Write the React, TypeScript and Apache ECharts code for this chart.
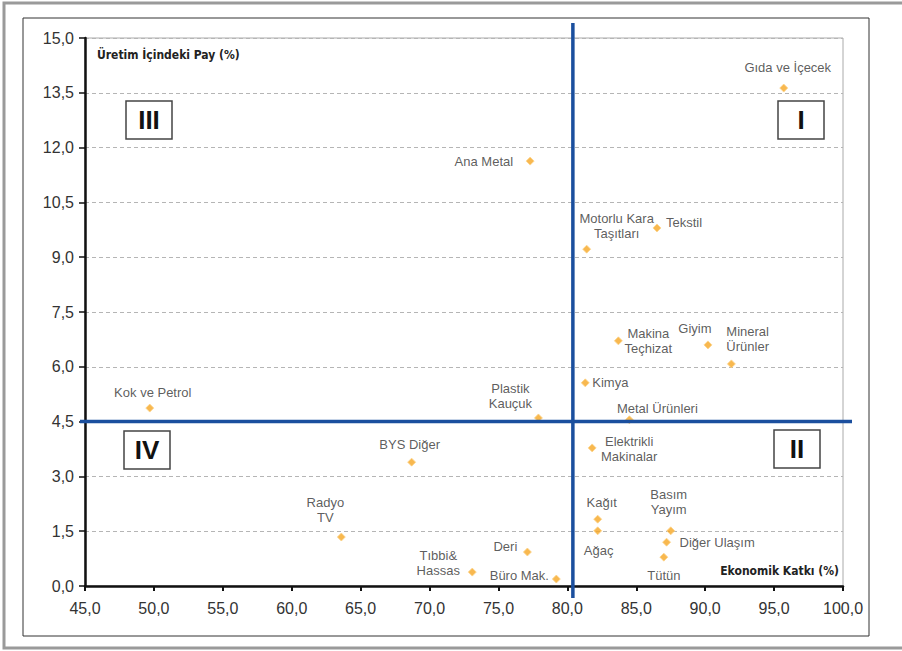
import React, { useEffect, useRef } from "react";
import * as echarts from "echarts";

const sectors: string[] = [
  "Gıda ve İçecek", "Ana Metal", "Tekstil", "Motorlu Kara\nTaşıtları", "Makina\nTeçhizat",
  "Giyim", "Mineral\nÜrünler", "Kimya", "Metal Ürünleri", "Plastik\nKauçuk",
  "Kok ve Petrol", "Elektrikli\nMakinalar", "BYS Diğer", "Radyo\nTV", "Tıbbi&\nHassas",
  "Deri", "Büro Mak.", "Kağıt", "Ağaç", "Basım\nYayım", "Diğer Ulaşım", "Tütün",
];
const economicContribution: number[] = [
  95.7, 77.3, 86.5, 81.4, 83.7, 90.2, 91.9, 81.3, 84.5, 77.9,
  49.7, 81.8, 68.7, 63.6, 73.1, 77.1, 79.2, 82.2, 82.2, 87.5, 87.2, 87.0,
];
const productionShare: number[] = [
  13.63, 11.63, 9.8, 9.22, 6.71, 6.6, 6.08, 5.56, 4.55, 4.6,
  4.87, 3.78, 3.39, 1.34, 0.38, 0.93, 0.19, 1.83, 1.51, 1.51, 1.2, 0.79,
];
const quadrantX = 80.4;
const quadrantY = 4.5;
const quadrantNames: string[] = ["I", "II", "III", "IV"];

// label placement (styling only): [dx, dy, align]
const labelPlacement: Record<string, [number, number, string]> = {
  "Gıda ve İçecek": [4, -21, "center"],
  "Ana Metal": [-17, 0, "right"],
  "Tekstil": [9, -5, "left"],
  "Motorlu Kara\nTaşıtları": [30, -23, "center"],
  "Makina\nTeçhizat": [30, 0, "center"],
  "Giyim": [-13, -16, "center"],
  "Mineral\nÜrünler": [-5, -25, "left"],
  "Kimya": [7, 0, "left"],
  "Metal Ürünleri": [28, -11, "center"],
  "Plastik\nKauçuk": [-28, -22, "center"],
  "Kok ve Petrol": [3, -16, "center"],
  "Elektrikli\nMakinalar": [37, 1, "center"],
  "BYS Diğer": [-2, -18, "center"],
  "Radyo\nTV": [-16, -27, "center"],
  "Tıbbi&\nHassas": [-34, -9, "center"],
  "Deri": [-22, -6, "center"],
  "Büro Mak.": [-37, -4, "center"],
  "Kağıt": [4, -17, "center"],
  "Ağaç": [1, 20, "center"],
  "Basım\nYayım": [-2, -29, "center"],
  "Diğer Ulaşım": [13, 0, "left"],
  "Tütün": [0, 18, "center"],
};

const FONT = "'Liberation Sans', Arial, Helvetica, sans-serif";
const NARROW = "'Liberation Sans Narrow', 'DejaVu Sans Condensed', 'Liberation Sans', sans-serif";
const BLUE = "#1b4f9e";

const fmt = (v: number) => v.toFixed(1).replace(".", ",");

export default function App() {
  const ref = useRef<HTMLDivElement>(null);
  useEffect(() => {
    if (!ref.current) return;
    const chart = echarts.init(ref.current, undefined, { renderer: "svg" });
    const G = { left: 85, top: 38, width: 758, height: 548 };
    const data = sectors.map((name, i) => {
      const p = labelPlacement[name] || [0, -14, "center"];
      return {
        name,
        value: [economicContribution[i], productionShare[i]],
        label: {
          show: true,
          position: "inside",
          offset: [p[0], p[1]],
          align: p[2],
          verticalAlign: "middle",
          formatter: name,
          color: "#333",
          fontSize: 13,
          lineHeight: 15,
          fontFamily: FONT,
        },
      };
    });
    chart.setOption({
      animation: false,
      backgroundColor: "#fff",
      grid: { ...G, show: true, borderColor: "#aaa", borderWidth: 1, backgroundColor: "transparent" },
      xAxis: {
        type: "value",
        min: 45,
        max: 100,
        interval: 5,
        axisLine: { show: true, onZero: false, lineStyle: { color: "#111", width: 2.5 } },
        axisTick: { show: true, inside: false, length: 5, lineStyle: { color: "#111", width: 2 } },
        axisLabel: { formatter: fmt, color: "#333", fontSize: 16, margin: 14, fontFamily: FONT },
        splitLine: { show: false },
      },
      yAxis: {
        type: "value",
        min: 0,
        max: 15,
        interval: 1.5,
        axisLine: { show: true, onZero: false, lineStyle: { color: "#111", width: 2.5 } },
        axisTick: { show: true, inside: false, length: 6, lineStyle: { color: "#111", width: 1.5 } },
        axisLabel: { formatter: fmt, color: "#333", fontSize: 16, margin: 11, fontFamily: FONT },
        splitLine: { show: true, lineStyle: { color: "#b5b5b5", type: [4, 3], width: 1 } },
      },
      series: [
        {
          type: "scatter",
          symbol: "diamond",
          symbolSize: 8,
          itemStyle: { color: "#f6a623", borderColor: "#fcd58c", borderWidth: 1 },
          data,
          z: 3,
        },
      ],
    });

    const [qx, qy] = chart.convertToPixel({ xAxisIndex: 0, yAxisIndex: 0 }, [quadrantX, quadrantY]) as number[];
    const right = G.left + G.width;
    const bottom = G.top + G.height;
    const box = (cx: number, cy: number, t: string) => ({
      type: "group",
      z: 50,
      children: [
        { type: "rect", shape: { x: cx - 23, y: cy - 19, width: 46, height: 38 }, style: { fill: "#fff", stroke: "#444", lineWidth: 1.5 } },
        { type: "text", x: cx, y: cy, style: { text: t, fill: "#111", font: `bold 26px ${FONT}`, align: "center", verticalAlign: "middle" } },
      ],
    });
    chart.setOption({
      graphic: [
        { type: "rect", z: 1, shape: { x: 4, y: 3, width: 905, height: 645 }, style: { fill: "none", stroke: "#9a9a9a", lineWidth: 3 } },
        { type: "rect", z: 1, shape: { x: 23, y: 18, width: 846, height: 618 }, style: { fill: "none", stroke: "#333", lineWidth: 1 } },
        { type: "line", z: 40, shape: { x1: qx, y1: G.top - 15, x2: qx, y2: bottom + 12 }, style: { stroke: BLUE, lineWidth: 3.5 } },
        { type: "line", z: 40, shape: { x1: G.left - 5, y1: qy, x2: right + 9, y2: qy }, style: { stroke: BLUE, lineWidth: 3.5 } },
        box(801, 120, quadrantNames[0]),
        box(797, 449, quadrantNames[1]),
        box(149, 120, quadrantNames[2]),
        box(147, 450, quadrantNames[3]),
        { type: "text", z: 50, x: 97, y: 55, style: { text: "Üretim İçindeki Pay (%)", fill: "#222", font: `bold 12px ${NARROW}`, verticalAlign: "middle" } },
        { type: "text", z: 50, x: 839, y: 571, style: { text: "Ekonomik Katkı (%)", fill: "#222", font: `bold 12px ${NARROW}`, align: "right", verticalAlign: "middle" } },
      ],
    });
    return () => chart.dispose();
  }, []);
  return (
    <div
      ref={ref}
      style={{ position: "fixed", left: 0, top: 0, width: 902, height: 651, background: "#fff" }}
    />
  );
}
